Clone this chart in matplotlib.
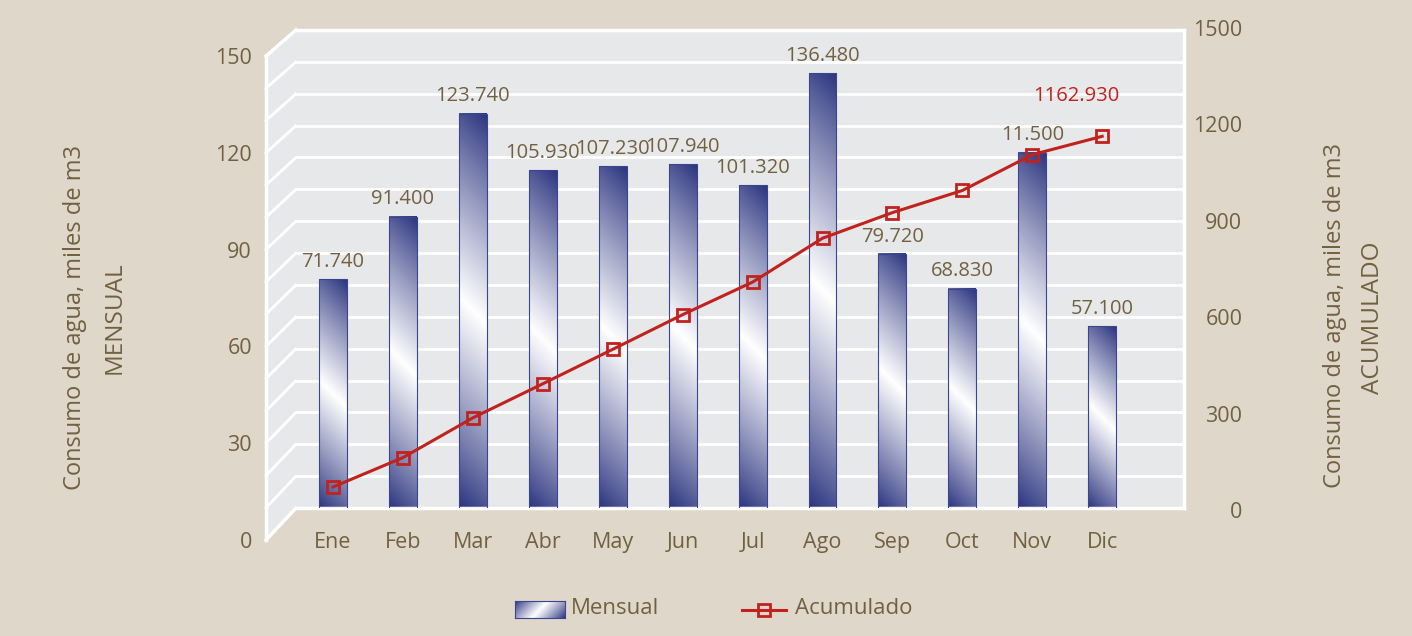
import numpy as np
import matplotlib.pyplot as plt
from matplotlib.patches import Rectangle, Polygon
from matplotlib.lines import Line2D
from matplotlib.colors import to_rgb

plt.rcParams['font.family'] = ['Open Sans', 'DejaVu Sans']
plt.rcParams['font.weight'] = 'medium'

# Datos
meses = ['Ene', 'Feb', 'Mar', 'Abr', 'May', 'Jun', 'Jul', 'Ago', 'Sep', 'Oct', 'Nov', 'Dic']
mensual = [71.74, 91.40, 123.74, 105.93, 107.23, 107.94, 101.32, 136.48, 79.72, 68.83, 111.50, 57.10]
etiquetas = ['71.740', '91.400', '123.740', '105.930', '107.230', '107.940',
             '101.320', '136.480', '79.720', '68.830', '11.500', '57.100']
acumulado = [71.74, 163.14, 286.88, 392.81, 500.04, 607.98, 709.30, 845.78,
             925.50, 994.33, 1105.83, 1162.93]
ticks_izq = [0, 30, 60, 90, 120, 150]
ticks_der = [0, 300, 600, 900, 1200, 1500]

BG = '#E0D7CB'
WALL = '#E7E8EA'
TXT = '#726140'
RED = '#C0221E'
NAVY = np.array(to_rgb('#29327E'))
WHITE = np.array([1.0, 1.0, 1.0])

W, H = 1412, 636
fig = plt.figure(figsize=(W / 100, H / 100), dpi=100)
fig.patch.set_facecolor(BG)


def box(x0, y0, x1, y1):
    # caja en pixeles (y desde arriba) -> fracciones de figura
    return [x0 / W, 1 - y1 / H, (x1 - x0) / W, (y1 - y0) / H]


def gradiente(h_px, w_px, inv=False):
    yy, xx = np.mgrid[0:h_px, 0:w_px]
    if inv:
        t = (yy + (w_px - 1 - xx)) / max(h_px + w_px - 2, 1)
    else:
        t = (yy + xx) / max(h_px + w_px - 2, 1)
    s = (1 - np.abs(2 * t - 1)) ** 0.9
    return NAVY * (1 - s)[..., None] + WHITE * s[..., None]


XL, XR = -0.53, 12.17
BAR_W = 0.4

# plano frontal (solo para las etiquetas del eje izquierdo)
axf = fig.add_axes(box(266, 56, 1154, 540))
axf.set_facecolor('none')
axf.set_ylim(0, 150)
axf.set_yticks(ticks_izq)
axf.set_xticks([])
axf.tick_params(axis='y', length=0, pad=10, labelsize=15.5, labelcolor=TXT)
for s in axf.spines.values():
    s.set_visible(False)

# pared del fondo
ax = fig.add_axes(box(296, 30, 1184, 508))
ax.set_facecolor(WALL)

px_x = 888 / (XR - XL)
px_y = 478 / 150
for i, v in enumerate(mensual):
    img = gradiente(int(round(v * px_y)), int(round(BAR_W * px_x)), inv=True)
    ax.imshow(img, extent=(i - BAR_W / 2, i + BAR_W / 2, 0, v), origin='upper',
              aspect='auto', interpolation='bilinear', zorder=2)
    ax.add_patch(Rectangle((i - BAR_W / 2, 0), BAR_W, v, fill=False,
                           ec='#3A4590', lw=0.8, zorder=3))
    ax.annotate(etiquetas[i], (i, v), xytext=(0, 12.5), textcoords='offset points',
                ha='center', va='center', fontsize=14.5, color=TXT, zorder=5)

ax.set_xlim(XL, XR)
ax.set_ylim(0, 150)
ax.set_yticks(range(0, 151, 10))
ax.yaxis.grid(True, color='white', lw=2)
ax.set_axisbelow(True)
ax.set_xticks(range(len(meses)))
ax.set_xticklabels(meses)
ax.tick_params(axis='x', length=0, pad=17, labelsize=15.5, labelcolor=TXT)
ax.tick_params(axis='y', length=0, labelleft=False)
ax.spines['left'].set_visible(False)
for k in ['top', 'right', 'bottom']:
    ax.spines[k].set_color('white')
    ax.spines[k].set_linewidth(2.5)

# pared izquierda
to_fig = fig.transFigure.inverted()


def pt(axes, x, y):
    return to_fig.transform(axes.transData.transform((x, y)))


poly = Polygon([pt(axf, 0, 150), pt(ax, XL, 150), pt(ax, XL, 0), pt(axf, 0, 0)],
               closed=True, fc=WALL, ec='none', transform=fig.transFigure, zorder=-1)
fig.add_artist(poly)
for v in range(0, 151, 10):
    a, b = pt(axf, 0, v), pt(ax, XL, v)
    lw = 2.5 if v in (0, 150) else 2
    fig.add_artist(Line2D([a[0], b[0]], [a[1], b[1]], color='white', lw=lw,
                          transform=fig.transFigure, zorder=-0.5))
a, b = pt(axf, 0, 0), pt(axf, 0, 150)
fig.add_artist(Line2D([a[0], b[0]], [a[1], b[1]], color='white', lw=2.5,
                      transform=fig.transFigure, zorder=-0.5))

# linea acumulada
ax2 = fig.add_axes(box(296, 28, 1184, 510))
ax2.set_facecolor('none')
ax2.plot(range(len(meses)), acumulado, color=RED, lw=2.2, marker='s', ms=8,
         mfc='none', mec=RED, mew=2, zorder=4)
ax2.annotate('{:.3f}'.format(acumulado[-1]), (len(meses) - 1, acumulado[-1]),
             xytext=(-19, 29), textcoords='offset points', ha='center', va='center',
             fontsize=14.5, color=RED)
ax2.set_xlim(XL, XR)
ax2.set_ylim(0, 1500)
ax2.set_xticks([])
ax2.yaxis.tick_right()
ax2.set_yticks(ticks_der)
ax2.tick_params(axis='y', length=0, pad=42, labelsize=15.5, labelcolor=TXT)
for lab in ax2.get_yticklabels():
    lab.set_horizontalalignment('right')
for s in ax2.spines.values():
    s.set_visible(False)

# titulos de ejes
fig.text(75 / W, 1 - 318 / H, 'Consumo de agua, miles de m3', rotation=90,
         ha='center', va='center', fontsize=17, color=TXT)
fig.text(115 / W, 1 - 318 / H, 'MENSUAL', rotation=90,
         ha='center', va='center', fontsize=17.5, color=TXT)
fig.text(1335 / W, 1 - 316 / H, 'Consumo de agua, miles de m3', rotation=90,
         ha='center', va='center', fontsize=17, color=TXT)
fig.text(1373 / W, 1 - 318 / H, 'ACUMULADO', rotation=90,
         ha='center', va='center', fontsize=17.5, color=TXT)

# leyenda
axl = fig.add_axes(box(515, 601, 565, 618))
axl.imshow(gradiente(17, 50), aspect='auto', interpolation='bilinear')
axl.set_xticks([])
axl.set_yticks([])
for s in axl.spines.values():
    s.set_color('#3A4590')
    s.set_linewidth(0.8)
fig.text(571 / W, 1 - 609 / H, 'Mensual', ha='left', va='center', fontsize=16, color=TXT)
fig.add_artist(Line2D([742 / W, 786 / W], [1 - 610 / H, 1 - 610 / H], color=RED, lw=2.2,
                      transform=fig.transFigure))
fig.add_artist(Line2D([764 / W], [1 - 610 / H], color=RED, marker='s', ms=8, mfc='none',
                      mew=2, transform=fig.transFigure))
fig.text(795 / W, 1 - 609 / H, 'Acumulado', ha='left', va='center', fontsize=16, color=TXT)

fig.savefig('out.png', dpi=100, facecolor=BG)
